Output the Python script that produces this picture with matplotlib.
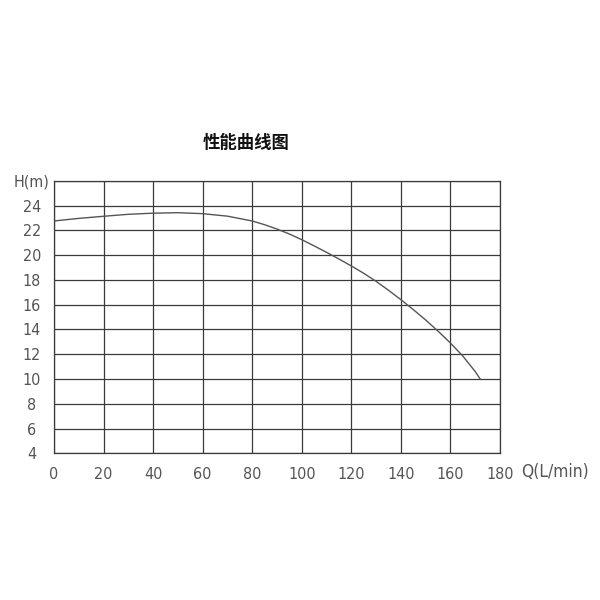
import matplotlib
matplotlib.use('Agg')
import matplotlib.pyplot as plt

# ==============================
# Data
# ==============================
flow_q = [0, 10, 20, 30, 40, 50, 60, 70, 80, 85, 90, 95, 100, 105, 110, 115,
          120, 125, 130, 135, 140, 145, 150, 155, 160, 165, 170, 172]
head_h = [22.75, 22.96, 23.13, 23.29, 23.38, 23.42, 23.34, 23.14, 22.75, 22.45, 22.1, 21.7, 21.24, 20.74, 20.22, 19.68,
          19.12, 18.53, 17.88, 17.16, 16.4, 15.6, 14.76, 13.86, 12.9, 11.85, 10.6, 10.0]

x_ticks = [0, 20, 40, 60, 80, 100, 120, 140, 160, 180]
y_ticks = [4, 6, 8, 10, 12, 14, 16, 18, 20, 22, 24, 26]
y_labels = ['4', '6', '8', '10', '12', '14', '16', '18', '20', '22', '24', 'H(m)']

title_text = '性能曲线图'
x_unit = 'Q(L/min)'

# ==============================
# Figure
# ==============================
plt.rcParams['font.family'] = ['DejaVu Sans']
LINE = '#3a3a3a'
TXT = '#555555'

fig = plt.figure(figsize=(6, 6), dpi=100)
ax = fig.add_axes([0.09, 0.2445, 0.7433, 0.4543])

ax.plot(flow_q, head_h, color='#555555', lw=1.0)

ax.set_xlim(0, 180)
ax.set_ylim(4, 26)
ax.set_xticks(x_ticks)
ax.set_yticks(y_ticks)
ax.set_xticklabels([str(v) for v in x_ticks])
ax.set_yticklabels(y_labels)
ax.grid(True, color=LINE, lw=0.9)
ax.set_axisbelow(True)
for s in ax.spines.values():
    s.set_color(LINE)
    s.set_linewidth(0.9)

ax.tick_params(axis='both', length=0, colors=TXT, labelsize=11.5)
ax.tick_params(axis='x', pad=10)
ax.tick_params(axis='y', pad=16)
for lab in ax.get_yticklabels():
    lab.set_horizontalalignment('center')
for lab in ax.get_xticklabels() + ax.get_yticklabels():
    lab.set_fontstretch('condensed')
    lab.set_fontweight('light')

fig.text(555 / 600, 1 - 472 / 600, x_unit, ha='center', va='center',
         fontsize=12.5, color=TXT, fontstretch='condensed', fontweight='light')

fig.text(246 / 600, 1 - 143 / 600, title_text, ha='center', va='center',
         fontsize=12.5, fontweight='bold', color='#111111',
         family=['Noto Sans CJK SC', 'DejaVu Sans'])

fig.savefig('out.png', dpi=100)
